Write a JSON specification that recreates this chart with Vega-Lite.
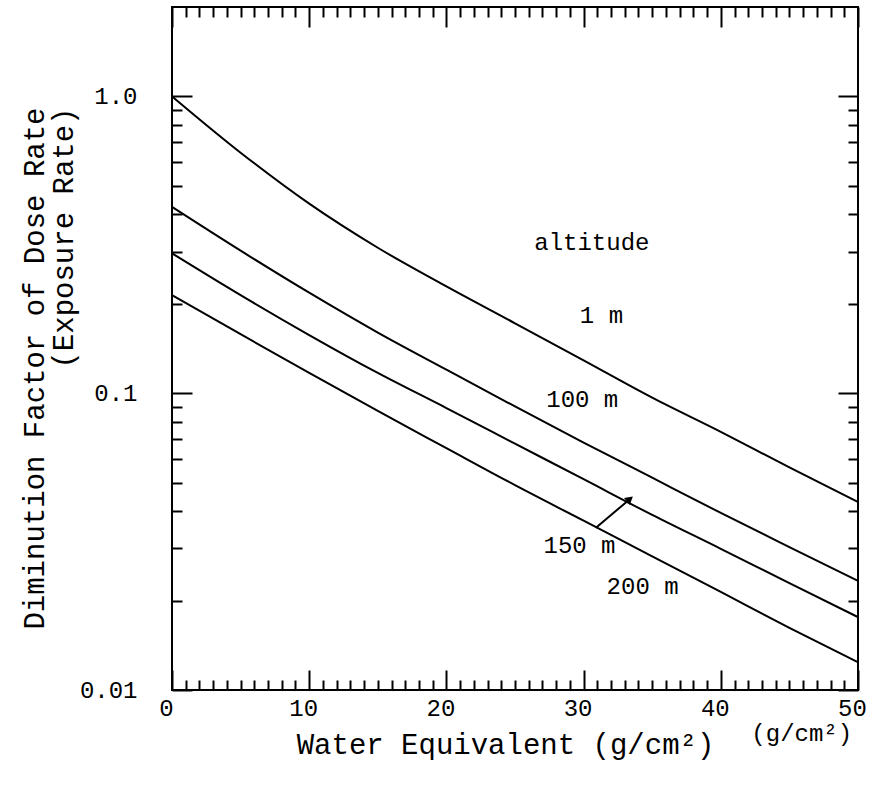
{
  "$schema": "https://vega.github.io/schema/vega-lite/v6.json",
  "autosize": {"type": "none"},
  "width": 686,
  "height": 683,
  "padding": {"left": 172, "top": 7, "right": 14, "bottom": 101},
  "background": "white",
  "config": {
    "view": {"stroke": "black", "strokeWidth": 2},
    "font": "Liberation Mono",
    "axis": {"domain": false, "grid": false, "tickColor": "black", "tickWidth": 2, "labelColor": "black", "titleColor": "black", "labelFont": "Liberation Mono", "titleFont": "Liberation Mono", "labelFontWeight": "normal", "titleFontWeight": "normal"}
  },
  "datasets": {
    "curves": [
      {"altitude": "1 m", "w": 0, "f": 1.0}, {"altitude": "1 m", "w": 5, "f": 0.646}, {"altitude": "1 m", "w": 10, "f": 0.435}, {"altitude": "1 m", "w": 15, "f": 0.309}, {"altitude": "1 m", "w": 20, "f": 0.229}, {"altitude": "1 m", "w": 25, "f": 0.172}, {"altitude": "1 m", "w": 30, "f": 0.129}, {"altitude": "1 m", "w": 35, "f": 0.0966}, {"altitude": "1 m", "w": 40, "f": 0.0741}, {"altitude": "1 m", "w": 45, "f": 0.0562}, {"altitude": "1 m", "w": 50, "f": 0.043},
      {"altitude": "100 m", "w": 0, "f": 0.424}, {"altitude": "100 m", "w": 5, "f": 0.302}, {"altitude": "100 m", "w": 10, "f": 0.218}, {"altitude": "100 m", "w": 15, "f": 0.16}, {"altitude": "100 m", "w": 20, "f": 0.12}, {"altitude": "100 m", "w": 25, "f": 0.0902}, {"altitude": "100 m", "w": 30, "f": 0.0682}, {"altitude": "100 m", "w": 35, "f": 0.0519}, {"altitude": "100 m", "w": 40, "f": 0.0395}, {"altitude": "100 m", "w": 45, "f": 0.0303}, {"altitude": "100 m", "w": 50, "f": 0.0233},
      {"altitude": "150 m", "w": 0, "f": 0.296}, {"altitude": "150 m", "w": 5, "f": 0.214}, {"altitude": "150 m", "w": 10, "f": 0.157}, {"altitude": "150 m", "w": 15, "f": 0.117}, {"altitude": "150 m", "w": 20, "f": 0.0891}, {"altitude": "150 m", "w": 25, "f": 0.0676}, {"altitude": "150 m", "w": 30, "f": 0.0513}, {"altitude": "150 m", "w": 35, "f": 0.0389}, {"altitude": "150 m", "w": 40, "f": 0.0299}, {"altitude": "150 m", "w": 45, "f": 0.0229}, {"altitude": "150 m", "w": 50, "f": 0.0176},
      {"altitude": "200 m", "w": 0, "f": 0.214}, {"altitude": "200 m", "w": 5, "f": 0.158}, {"altitude": "200 m", "w": 10, "f": 0.117}, {"altitude": "200 m", "w": 15, "f": 0.0871}, {"altitude": "200 m", "w": 20, "f": 0.0653}, {"altitude": "200 m", "w": 25, "f": 0.049}, {"altitude": "200 m", "w": 30, "f": 0.0372}, {"altitude": "200 m", "w": 35, "f": 0.0282}, {"altitude": "200 m", "w": 40, "f": 0.0214}, {"altitude": "200 m", "w": 45, "f": 0.0162}, {"altitude": "200 m", "w": 50, "f": 0.0124}
    ],
    "labels": [
      {"text": "altitude", "w": 30.6, "f": 0.32},
      {"text": "1 m", "w": 31.3, "f": 0.182},
      {"text": "100 m", "w": 29.9, "f": 0.095},
      {"text": "150 m", "w": 29.7, "f": 0.0305},
      {"text": "200 m", "w": 34.3, "f": 0.0222},
      {"text": "(g/cm²)", "w": 45.9, "f": 0.0071}
    ],
    "arrow": [
      {"w": 30.9, "f": 0.0352, "w2": 33.3, "f2": 0.0437}
    ]
  },
  "resolve": {"axis": {"x": "independent", "y": "independent"}},
  "layer": [
    {
      "data": {"name": "curves"},
      "mark": {"type": "line", "color": "black", "strokeWidth": 2, "interpolate": "monotone"},
      "encoding": {
        "x": {"field": "w", "type": "quantitative", "scale": {"domain": [0, 50], "nice": false, "zero": false},
          "axis": {"orient": "bottom", "values": [0, 10, 20, 30, 40, 50], "tickSize": -20, "labelPadding": 26, "labelOffset": -6, "labelFontSize": 24, "labelFlush": false,
            "title": "Water Equivalent (g/cm²)", "titleFontSize": 29, "titleX": 333, "titleY": 63, "titleAlign": "center", "titleBaseline": "alphabetic"}},
        "y": {"field": "f", "type": "quantitative", "scale": {"type": "log", "domain": [0.01, 2], "nice": false},
          "axis": {"orient": "left", "values": [0.01, 0.1, 1], "tickSize": -20, "labelPadding": 55, "labelFontSize": 24,
            "labelExpr": "datum.value >= 0.5 ? '1.0' : datum.value >= 0.05 ? '0.1' : '0.01'",
            "title": ["Diminution Factor of Dose Rate", "(Exposure Rate)"], "titleFontSize": 29, "titleLineHeight": 29, "titleAlign": "right", "titleX": -138, "titleY": 100, "titleBaseline": "middle", "titleAngle": 270}},
        "detail": {"field": "altitude"}
      }
    },
    {
      "data": {"name": "curves"},
      "mark": {"type": "line", "opacity": 0},
      "encoding": {
        "x": {"field": "w", "type": "quantitative", "axis": {"orient": "bottom", "values": [1,2,3,4,5,6,7,8,9,11,12,13,14,15,16,17,18,19,21,22,23,24,25,26,27,28,29,31,32,33,34,35,36,37,38,39,41,42,43,44,45,46,47,48,49], "tickSize": -10, "labels": false, "title": null}},
        "y": {"field": "f", "type": "quantitative", "axis": {"orient": "left", "values": [0.02,0.03,0.04,0.05,0.06,0.07,0.08,0.09,0.2,0.3,0.4,0.5,0.6,0.7,0.8,0.9], "tickSize": -10, "labels": false, "title": null}},
        "detail": {"field": "altitude"}
      }
    },
    {
      "data": {"name": "curves"},
      "mark": {"type": "line", "opacity": 0},
      "encoding": {
        "x": {"field": "w", "type": "quantitative", "axis": {"orient": "top", "values": [0, 10, 20, 30, 40, 50], "tickSize": -20, "labels": false, "title": null}},
        "y": {"field": "f", "type": "quantitative", "axis": {"orient": "right", "values": [0.01, 0.1, 1], "tickSize": -20, "labels": false, "title": null}},
        "detail": {"field": "altitude"}
      }
    },
    {
      "data": {"name": "curves"},
      "mark": {"type": "line", "opacity": 0},
      "encoding": {
        "x": {"field": "w", "type": "quantitative", "axis": {"orient": "top", "values": [1,2,3,4,5,6,7,8,9,11,12,13,14,15,16,17,18,19,21,22,23,24,25,26,27,28,29,31,32,33,34,35,36,37,38,39,41,42,43,44,45,46,47,48,49], "tickSize": -10, "labels": false, "title": null}},
        "y": {"field": "f", "type": "quantitative", "axis": {"orient": "right", "values": [0.02,0.03,0.04,0.05,0.06,0.07,0.08,0.09,0.2,0.3,0.4,0.5,0.6,0.7,0.8,0.9], "tickSize": -10, "labels": false, "title": null}},
        "detail": {"field": "altitude"}
      }
    },
    {
      "data": {"name": "labels"},
      "mark": {"type": "text", "font": "Liberation Mono", "fontSize": 24, "color": "black", "align": "center", "baseline": "middle"},
      "encoding": {
        "x": {"field": "w", "type": "quantitative", "axis": null},
        "y": {"field": "f", "type": "quantitative", "axis": null},
        "text": {"field": "text"}
      }
    },
    {
      "data": {"name": "arrow"},
      "mark": {"type": "rule", "color": "black", "strokeWidth": 2},
      "encoding": {
        "x": {"field": "w", "type": "quantitative", "axis": null},
        "y": {"field": "f", "type": "quantitative", "axis": null},
        "x2": {"field": "w2"},
        "y2": {"field": "f2"}
      }
    },
    {
      "data": {"name": "arrow"},
      "mark": {"type": "point", "shape": "triangle", "filled": true, "color": "black", "size": 80, "angle": 50, "opacity": 1},
      "encoding": {
        "x": {"field": "w2", "type": "quantitative", "axis": null},
        "y": {"field": "f2", "type": "quantitative", "axis": null}
      }
    }
  ]
}
